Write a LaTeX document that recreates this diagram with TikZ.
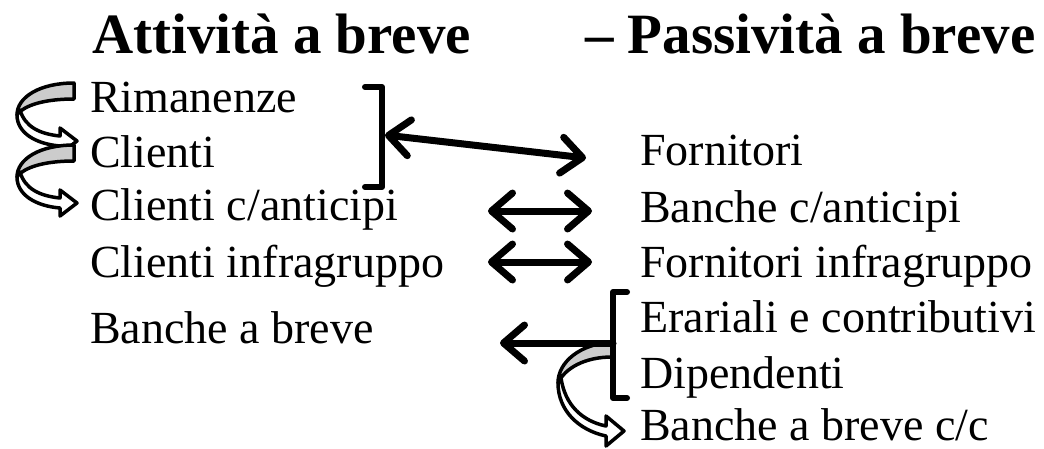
\documentclass[tikz,border=0pt]{standalone}
\usepackage{fontspec}
\setmainfont{Liberation Serif}
\usetikzlibrary{arrows.meta}
\begin{document}
\begin{tikzpicture}[x=1pt,y=-1pt,
  txt/.style={anchor=base west, inner sep=0pt, font=\fontsize{46}{50}\selectfont},
  ttl/.style={anchor=base west, inner sep=0pt, font=\fontsize{57}{62}\selectfont\bfseries},
  brk/.style={line width=6pt, line cap=round, line join=round},
  barb/.tip={Straight Barb[length=21pt,width=36pt,round]},
  dbl/.style={line width=7pt, line cap=round, barb-barb},
  lft/.style={line width=7pt, line cap=round, -barb},
  back/.style={draw=black, fill=black!20, line width=3.5pt, line join=round},
  front/.style={draw=black, fill=white, line width=3.5pt, line join=round},
]
\useasboundingbox (0,0) rectangle (1044,448);

% titles
\node[ttl] (tA) at (92,53) {Attività a breve};
\node[ttl] (tP) at (585,53) {– Passività a breve};

% left column
\node[txt] (rim) at (90,112) {Rimanenze};
\node[txt] (cli) at (90,167) {Clienti};
\node[txt] (cca) at (90,220) {Clienti c/anticipi};
\node[txt] (cig) at (90,277) {Clienti infragruppo};
\node[txt] (bab) at (90,343) {Banche a breve};

% right column
\node[txt] (for) at (640,165) {Fornitori};
\node[txt] (bca) at (640,222) {Banche c/anticipi};
\node[txt] (fig) at (640,277) {Fornitori infragruppo};
\node[txt] (era) at (640,332) {Erariali e contributivi};
\node[txt] (dip) at (640,388) {Dipendenti};
\node[txt] (bcc) at (640,440) {Banche a breve c/c};

% curved arrows on the left
\foreach \dy in {0,62}{
  \begin{scope}[yshift=-\dy pt]
    \path[back] (74,83) .. controls (40,83) and (17,97) .. (17,115)
      .. controls (24,105) and (45,99) .. (74,99) -- cycle;
    \path[front] (17,115) .. controls (17,133) and (36,144) .. (60,146)
      -- (60,154) -- (77,141) -- (60,128) -- (60,136)
      .. controls (40,134) and (25,127) .. (20,110) -- cycle;
  \end{scope}
}

% curved arrow at bottom right
\path[back] (612,342) .. controls (580,344) and (558,362) .. (558,383)
  .. controls (565,368) and (585,357) .. (612,357) -- cycle;
\path[front] (558,383) .. controls (558,410) and (578,430) .. (606,436)
  -- (606,446) -- (624,431) -- (606,416) -- (606,426)
  .. controls (582,421) and (565,405) .. (561,378) -- cycle;

% brackets
\draw[brk] (365,87) -- (382,87) -- (382,187) -- (365,187);
\draw[brk] (627,292) -- (613,292) -- (613,398) -- (627,398);

% straight arrows
\coordinate (b1) at (385,135);
\coordinate (f1) at (586,158);
\draw[dbl] (b1) -- (f1);
\coordinate (l3) at (488,211);
\coordinate (r3) at (592,211);
\draw[dbl] (l3) -- (r3);
\coordinate (l4) at (488,262);
\coordinate (r4) at (592,262);
\draw[dbl] (l4) -- (r4);
\coordinate (b2) at (613,343);
\coordinate (t2) at (500,343);
\draw[lft] (b2) -- (t2);
\end{tikzpicture}
\end{document}
